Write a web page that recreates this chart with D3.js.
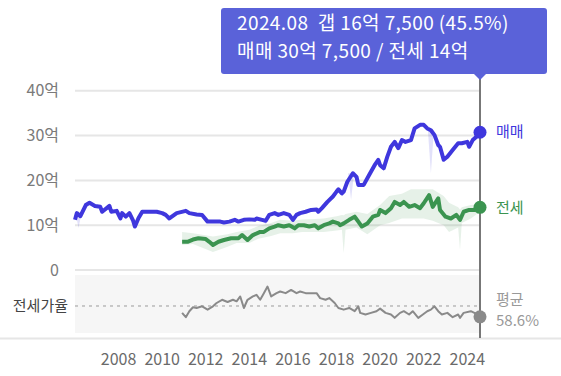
<!DOCTYPE html>
<html>
<head>
<meta charset="utf-8">
<script src="https://cdn.jsdelivr.net/npm/d3@7"></script>
<style>
  body { margin: 0; background: #fff; }
  svg { display: block; font-family: "Noto Sans CJK KR", "Noto Sans", sans-serif; }
</style>
</head>
<body>
<div id="chart"></div>
<script>
const width = 561, height = 376;

// 매매 (sale price, 억)
const salesDates = ["2006-01","2006-02","2006-04","2006-07","2006-09","2006-12","2007-03","2007-04","2007-08","2007-09","2007-12",
  "2008-02","2008-03","2008-05","2008-07","2008-09","2008-10","2008-12","2009-02","2009-05","2009-10","2010-01","2010-03","2010-05","2010-09",
  "2011-02","2011-04","2011-08","2011-11","2012-02","2012-06","2012-09","2012-11","2013-02","2013-05","2013-07","2013-10",
  "2014-01","2014-04","2014-05","2014-08","2014-10","2014-12","2015-03","2015-05","2015-08","2015-11","2016-01","2016-03","2016-05","2016-08","2016-11",
  "2017-02","2017-03","2017-05","2017-08","2017-11","2018-01","2018-02","2018-04","2018-05","2018-07","2018-10","2018-12",
  "2019-01","2019-04","2019-07","2019-10","2019-12","2020-01","2020-03","2020-05","2020-07","2020-09","2020-11",
  "2021-01","2021-03","2021-06","2021-08","2021-11","2022-01","2022-03","2022-05","2022-07","2022-09","2022-10","2022-12",
  "2023-02","2023-05","2023-08","2023-10","2024-01","2024-02","2024-04","2024-07","2024-08"];
const salesValues = [11.2,12.7,12.0,14.5,15.0,14.3,14.1,13.0,14.3,13.0,13.2,
  11.5,12.7,11.9,12.7,11.0,9.7,11.6,13.0,13.0,13.0,12.7,12.3,11.5,12.7,
  13.2,12.7,12.4,12.3,10.8,10.8,10.8,10.6,10.8,11.2,10.8,11.2,
  11.3,11.2,11.5,11.2,11.0,12.3,12.7,12.3,12.7,12.3,11.2,12.3,12.7,13.0,13.4,
  13.5,13.0,13.8,15.2,16.4,17.5,18.0,17.1,17.5,19.7,21.6,20.8,
  19.0,19.0,21.2,23.4,24.6,23.4,22.7,25.3,27.5,28.6,27.2,
  29.0,28.6,29.0,31.6,32.4,32.4,31.6,31.2,30.1,27.9,27.5,24.6,
  25.3,26.8,28.3,28.3,28.6,27.5,29.0,30.1,30.75];

// short drops in the 매매 range band
const salesDipDates = ["2006-03","2014-10","2018-09","2022-05"];
const salesDipLow = [9.4,10.2,15.6,21.6];

// 전세 (jeonse price, 억)
const jeonseDates = ["2010-12","2011-03","2011-06","2011-09","2012-01","2012-03","2012-05","2012-08","2012-11","2013-03","2013-07","2013-09","2013-12",
  "2014-03","2014-07","2014-09","2014-12","2015-03","2015-05","2015-08","2015-11","2016-02","2016-04","2016-07","2016-10",
  "2017-01","2017-03","2017-06","2017-09","2017-11","2018-02","2018-03","2018-05","2018-08","2018-11",
  "2019-01","2019-03","2019-06","2019-09","2019-12","2020-01","2020-04","2020-07","2020-09","2020-12",
  "2021-02","2021-05","2021-08","2021-11","2022-01","2022-04","2022-06","2022-09","2022-10",
  "2023-01","2023-04","2023-07","2023-09","2023-11","2024-02","2024-05","2024-08"];
const jeonseValues = [6.3,6.3,6.8,7.1,6.9,6.3,5.6,6.3,6.7,7.1,7.1,7.8,6.7,
  7.8,8.5,8.5,9.3,9.7,10.0,9.7,10.0,9.3,10.0,10.0,9.7,
  10.0,9.3,10.0,10.4,10.8,10.4,10.0,10.4,11.2,11.9,
  10.8,9.7,10.4,11.9,12.3,13.4,12.7,13.8,15.2,14.5,
  15.2,14.1,14.5,13.8,14.9,16.7,14.1,16.0,13.4,
  11.9,11.5,12.3,11.2,13.0,13.4,13.4,14.0];

// 전세 range band
const jeonseBandDates = ["2010-12","2011-06","2012-05","2013-01","2013-06","2014-01","2014-06","2015-01","2015-06","2016-01","2016-06",
  "2017-01","2017-06","2018-01","2018-04","2018-05","2018-06","2018-12","2019-06","2020-01","2020-06","2021-01","2021-06",
  "2022-01","2022-06","2022-12","2023-03","2023-08","2023-09","2023-10","2024-03","2024-08"];
const jeonseLow = [5.6,5.8,4.0,5.2,6.0,6.0,7.0,7.6,8.2,8.2,8.5,
  8.5,8.5,8.8,9.0,3.8,9.0,9.5,8.0,10.0,10.5,11.5,11.5,
  11.5,11.0,10.0,8.5,9.5,4.5,10.5,11.5,13.0];
const jeonseHigh = [8.5,8.2,7.5,8.0,8.5,9.0,9.8,10.5,11.2,11.0,11.3,
  11.4,11.5,12.0,12.3,12.2,12.5,13.0,12.5,14.5,16.5,17.0,18.0,
  18.0,18.0,16.5,15.0,14.0,13.5,14.0,14.5,14.6];

// 전세가율 (%)
const ratioDates = ["2010-12","2011-02","2011-04","2011-06","2011-08","2011-11","2012-02","2012-05","2012-07","2012-10",
  "2013-01","2013-04","2013-06","2013-08","2013-10","2013-12","2014-03","2014-05","2014-07","2014-09","2014-11",
  "2015-01","2015-04","2015-06","2015-09","2015-12","2016-03","2016-05","2016-08","2016-11",
  "2017-02","2017-04","2017-07","2017-09","2017-12","2018-02","2018-05","2018-08","2018-11",
  "2019-01","2019-02","2019-05","2019-08","2019-11","2020-01","2020-04","2020-07","2020-09","2020-12",
  "2021-02","2021-05","2021-07","2021-10","2021-12","2022-03","2022-05","2022-07","2022-09","2022-11",
  "2023-02","2023-05","2023-08","2023-09","2023-11","2024-03","2024-06","2024-08"];
const ratioValues = [50.3,45.1,52.3,57.1,56.2,58.2,54.2,58.2,62.2,66.1,
  63.4,66.1,64.2,70.1,56.2,66.1,70.1,72.1,66.1,74.1,82.1,
  70.1,74.1,76.1,74.1,78.0,74.1,76.1,74.1,74.1,
  74.1,68.1,66.1,68.1,62.2,56.2,54.2,56.2,52.3,
  58.2,50.3,48.3,50.3,52.3,55.4,50.3,48.3,44.3,50.3,
  52.3,48.3,52.3,44.3,47.5,52.3,54.2,58.2,52.3,48.3,
  50.3,45.1,48.3,44.3,50.3,52.3,49.0,45.5];
const ratioAverage = 58.6;

const yTicks = [0, 10, 20, 30, 40];
const yearTicks = [2008, 2010, 2012, 2014, 2016, 2018, 2020, 2022, 2024];

const parse = d3.timeParse("%Y-%m");
const salesColor = "#3f37dd", jeonseColor = "#3b9450", ratioColor = "#8a8a8a";

const x = d3.scaleTime()
  .domain([parse("2006-01"), parse("2024-08")])
  .range([75, 480]);
const y = d3.scaleLinear().domain([0, 40]).range([270, 90.8]);
const yR = d3.scaleLinear().domain([26, 96]).range([333, 275]);

const svg = d3.select("#chart").append("svg")
  .attr("width", width)
  .attr("height", height);

// grid + y labels
svg.append("g")
  .selectAll("line")
  .data(yTicks)
  .join("line")
    .attr("x1", 75).attr("x2", 480)
    .attr("y1", d => y(d)).attr("y2", d => y(d))
    .attr("stroke", "#e6e6e6")
    .attr("stroke-width", 2);

svg.append("g")
  .selectAll("text")
  .data(yTicks)
  .join("text")
    .attr("x", 59)
    .attr("y", d => y(d))
    .attr("dy", "0.35em")
    .attr("text-anchor", "end")
    .attr("font-size", 16)
    .attr("fill", "#7a7a7a")
    .text(d => d === 0 ? "0" : d + "억");

// ratio panel background
svg.append("rect")
  .attr("x", 75).attr("y", 275)
  .attr("width", 405).attr("height", 58)
  .attr("fill", "#f6f6f6");

svg.append("line")
  .attr("x1", 0).attr("x2", width)
  .attr("y1", 338.5).attr("y2", 338.5)
  .attr("stroke", "#e6e6e6")
  .attr("stroke-width", 2);

svg.append("line")
  .attr("x1", 75).attr("x2", 480)
  .attr("y1", yR(ratioAverage)).attr("y2", yR(ratioAverage))
  .attr("stroke", "#9a9a9a")
  .attr("stroke-dasharray", "3,4");

svg.append("text")
  .attr("x", 68).attr("y", yR(ratioAverage))
  .attr("dy", "0.35em")
  .attr("text-anchor", "end")
  .attr("font-size", 15)
  .attr("fill", "#444")
  .text("전세가율");

// x labels
svg.append("g")
  .selectAll("text")
  .data(yearTicks)
  .join("text")
    .attr("x", d => x(new Date(d, 0, 1)))
    .attr("y", 359)
    .attr("dy", "0.35em")
    .attr("text-anchor", "middle")
    .attr("font-size", 16)
    .attr("fill", "#6a6a6a")
    .text(d => d);

// bands
const jeonseBand = jeonseBandDates.map((d, i) => ({date: parse(d), lo: jeonseLow[i], hi: jeonseHigh[i]}));
svg.append("path")
  .datum(jeonseBand)
  .attr("fill", jeonseColor)
  .attr("fill-opacity", 0.13)
  .attr("d", d3.area().x(d => x(d.date)).y0(d => y(d.lo)).y1(d => y(d.hi)));

const sales = salesDates.map((d, i) => ({date: parse(d), value: salesValues[i]}));
const jeonse = jeonseDates.map((d, i) => ({date: parse(d), value: jeonseValues[i]}));
const ratio = ratioDates.map((d, i) => ({date: parse(d), value: ratioValues[i]}));

// thin drops under the 매매 line
svg.append("g")
  .selectAll("path")
  .data(salesDipDates.map((d, i) => ({date: parse(d), lo: salesDipLow[i]})))
  .join("path")
    .attr("fill", salesColor)
    .attr("fill-opacity", 0.15)
    .attr("d", d => {
      const cx = x(d.date);
      const top = y(d3.least(sales, s => Math.abs(s.date - d.date)).value);
      return `M${cx - 3},${top} L${cx + 3},${top} L${cx},${y(d.lo)} Z`;
    });

const line = d3.line().x(d => x(d.date)).y(d => y(d.value));

svg.append("path")
  .datum(jeonse)
  .attr("fill", "none")
  .attr("stroke", jeonseColor)
  .attr("stroke-width", 4)
  .attr("stroke-linejoin", "round")
  .attr("d", line);

svg.append("path")
  .datum(sales)
  .attr("fill", "none")
  .attr("stroke", salesColor)
  .attr("stroke-width", 4)
  .attr("stroke-linejoin", "round")
  .attr("d", line);

svg.append("path")
  .datum(ratio)
  .attr("fill", "none")
  .attr("stroke", ratioColor)
  .attr("stroke-width", 2)
  .attr("stroke-linejoin", "round")
  .attr("d", d3.line().x(d => x(d.date)).y(d => yR(d.value)));

// cursor line
const last = parse("2024-08");
svg.append("line")
  .attr("x1", x(last)).attr("x2", x(last))
  .attr("y1", 74).attr("y2", 338)
  .attr("stroke", "#777")
  .attr("stroke-width", 2);

const lastSale = salesValues[salesValues.length - 1];
const lastJeonse = jeonseValues[jeonseValues.length - 1];
const lastRatio = ratioValues[ratioValues.length - 1];

svg.append("circle").attr("cx", x(last)).attr("cy", y(lastSale)).attr("r", 6.5).attr("fill", salesColor);
svg.append("circle").attr("cx", x(last)).attr("cy", y(lastJeonse)).attr("r", 6.5).attr("fill", jeonseColor);
svg.append("circle").attr("cx", x(last)).attr("cy", yR(lastRatio)).attr("r", 6.5).attr("fill", ratioColor);

svg.append("text")
  .attr("x", 496).attr("y", y(lastSale)).attr("dy", "0.35em")
  .attr("font-size", 15).attr("fill", salesColor)
  .text("매매");
svg.append("text")
  .attr("x", 496).attr("y", y(lastJeonse)).attr("dy", "0.35em")
  .attr("font-size", 15).attr("fill", jeonseColor)
  .text("전세");
svg.append("text")
  .attr("x", 496).attr("y", 300).attr("dy", "0.35em")
  .attr("font-size", 15).attr("fill", "#999")
  .text("평균");
svg.append("text")
  .attr("x", 496).attr("y", 321).attr("dy", "0.35em")
  .attr("font-size", 15).attr("fill", "#999")
  .text(ratioAverage + "%");

// tooltip
const fmtEok = v => {
  const e = Math.floor(v + 1e-9);
  const man = Math.round((v - e) * 10000);
  return man ? `${e}억 ${d3.format(",")(man)}` : `${e}억`;
};
const tip = svg.append("g");
tip.append("rect")
  .attr("x", 221).attr("y", 8)
  .attr("width", 326).attr("height", 66)
  .attr("rx", 3)
  .attr("fill", "#5a62d9");
tip.append("path")
  .attr("d", `M${x(last) - 7},73 L${x(last) + 7},73 L${x(last)},80 Z`)
  .attr("fill", "#5a62d9");
tip.append("text")
  .attr("x", 237).attr("y", 23).attr("dy", "0.35em")
  .attr("font-size", 19).attr("letter-spacing", 0.4).attr("fill", "#fff")
  .attr("xml:space", "preserve")
  .text(`${d3.timeFormat("%Y.%m")(last)}  갭 ${fmtEok(lastSale - lastJeonse)} (${lastRatio}%)`);
tip.append("text")
  .attr("x", 237).attr("y", 51.5).attr("dy", "0.35em")
  .attr("font-size", 19).attr("letter-spacing", 0.4).attr("fill", "#fff")
  .text(`매매 ${fmtEok(lastSale)} / 전세 ${fmtEok(lastJeonse)}`);
</script>
</body>
</html>
